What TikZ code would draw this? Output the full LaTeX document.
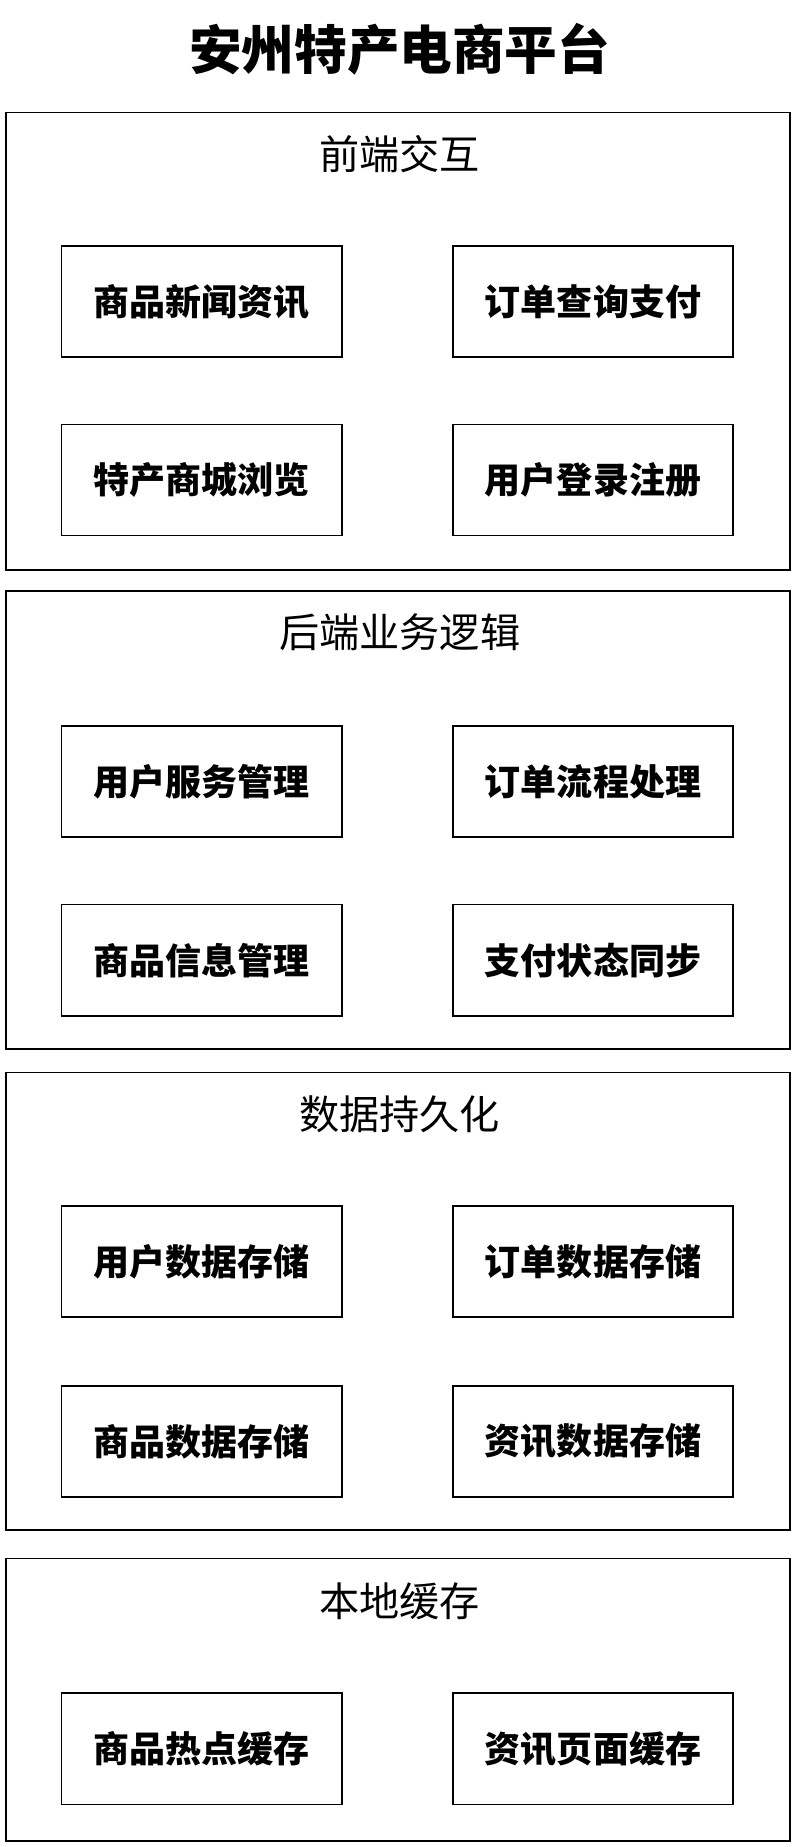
\documentclass[tikz,border=0pt]{standalone}
\usepackage{fontspec}
\setmainfont{Noto Sans CJK SC}
\usetikzlibrary{calc, positioning}

\begin{document}
\begin{tikzpicture}[x=0.03cm, y=-0.03cm]
    \tikzstyle{layer} = [draw=black, line width=1.2pt, inner sep=0pt]
    \tikzstyle{module} = [rectangle, draw=black, line width=1.2pt,
        minimum width=237*0.03cm, minimum height=94*0.03cm,
        font=\fontsize{26}{30}\selectfont\bfseries]
    \tikzstyle{caption} = [font=\fontsize{29}{34}\selectfont]

    \useasboundingbox (0, 0) rectangle (676, 1562);

    % Title
    \node (title) at (338, 42) {\fontsize{38}{44}\selectfont\bfseries 安州特产电商平台};

    % Frontend ------------------------------------------
    \draw[layer] (5, 95) rectangle (668, 482);
    \node (front) at (338, 130) [caption] {前端交互};
    \node (news) at (170.5, 255) [module] {商品新闻资讯};
    \node (order_pay) at ($(news) + (331, 0)$) [module] {订单查询支付};
    \node (browse) at ($(news) + (0, 151)$) [module] {特产商城浏览};
    \node (login) at ($(browse) + (331, 0)$) [module] {用户登录注册};

    % Backend -------------------------------------------
    \draw[layer] (5, 500) rectangle (668, 887);
    \node (back) at (338, 535) [caption] {后端业务逻辑};
    \node (user_srv) at (170.5, 661) [module] {用户服务管理};
    \node (order_flow) at ($(user_srv) + (331, 0)$) [module] {订单流程处理};
    \node (goods_info) at ($(user_srv) + (0, 151)$) [module] {商品信息管理};
    \node (pay_sync) at ($(goods_info) + (331, 0)$) [module] {支付状态同步};

    % Persistence ---------------------------------------
    \draw[layer] (5, 907) rectangle (668, 1294);
    \node (persist) at (338, 942) [caption] {数据持久化};
    \node (user_db) at (170.5, 1067) [module] {用户数据存储};
    \node (order_db) at ($(user_db) + (331, 0)$) [module] {订单数据存储};
    \node (goods_db) at ($(user_db) + (0, 152)$) [module] {商品数据存储};
    \node (news_db) at ($(goods_db) + (331, 0)$) [module] {资讯数据存储};

    % Cache ---------------------------------------------
    \draw[layer] (5, 1318) rectangle (668, 1557);
    \node (cache) at (338, 1354) [caption] {本地缓存};
    \node (hot_cache) at (170.5, 1479) [module] {商品热点缓存};
    \node (page_cache) at ($(hot_cache) + (331, 0)$) [module] {资讯页面缓存};
\end{tikzpicture}
\end{document}
